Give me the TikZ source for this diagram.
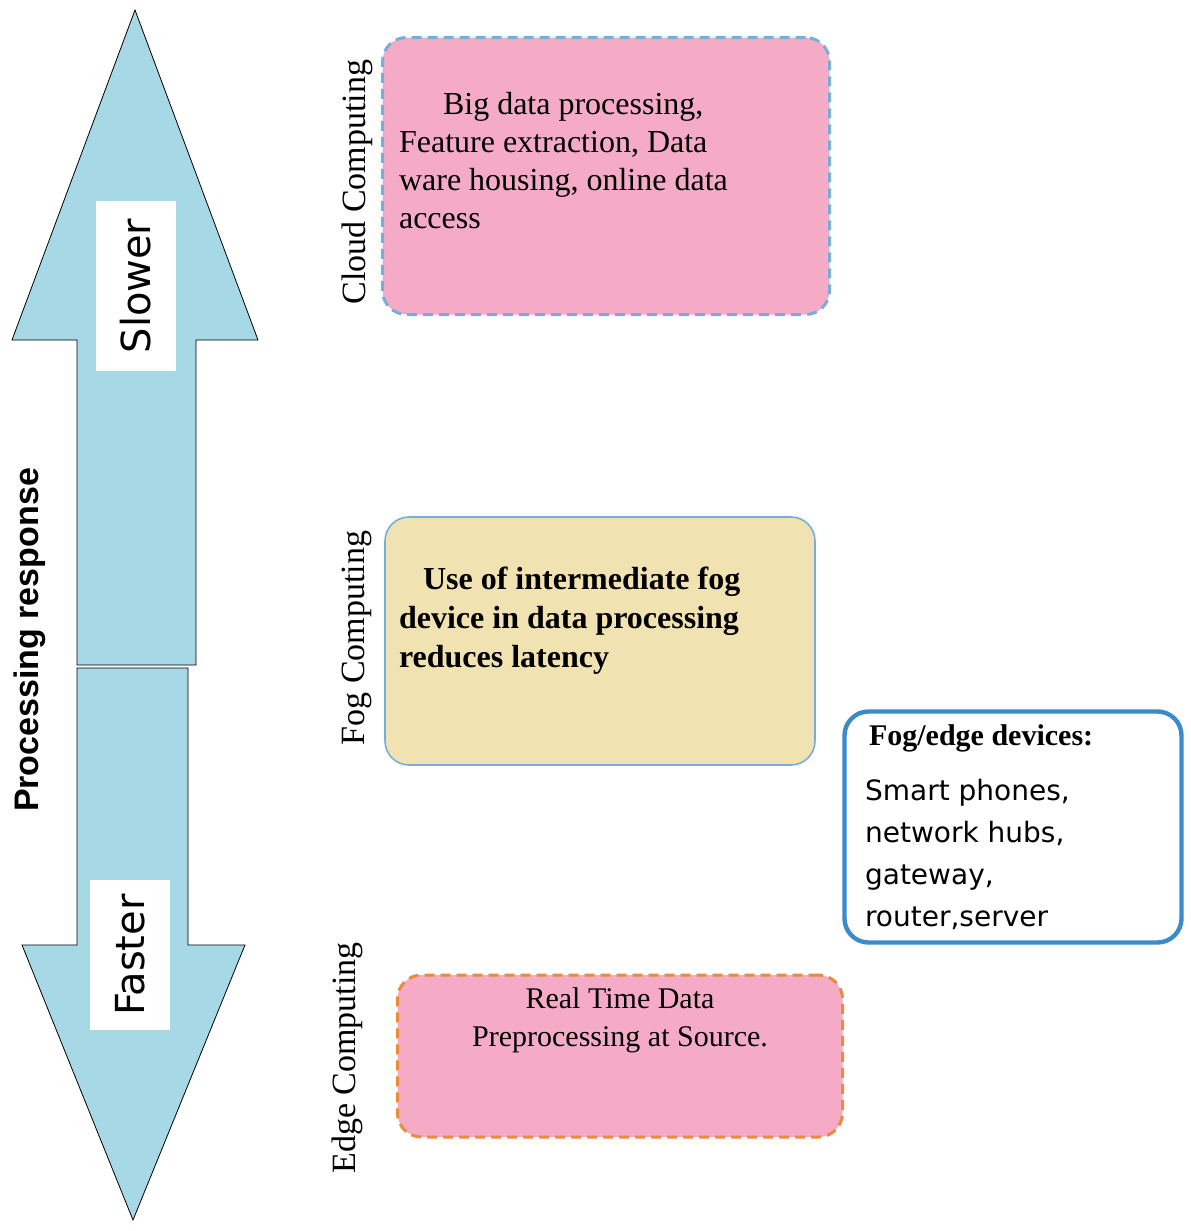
\documentclass[tikz,border=0pt]{standalone}
\usepackage{fontspec}
\setmainfont{Liberation Serif}
\newfontfamily\sansf{DejaVu Sans}
\newfontfamily\sanslib{Liberation Sans}
\usetikzlibrary{positioning}
\definecolor{arrowblue}{HTML}{A6D8E6}
\definecolor{boxpink}{HTML}{F5ABC6}
\definecolor{boxsand}{HTML}{F1E2B2}
\definecolor{lineblue}{HTML}{3B8BCB}
\definecolor{dashorange}{HTML}{E98A3C}
\begin{document}
\begin{tikzpicture}[x=0.5pt,y=-0.5pt,
    box/.style = {rounded corners=12pt, inner sep=0pt},
    dashedge/.style = {dash pattern=on 5pt off 3pt, line width=1.5pt},
    side/.style = {rotate=90, font=\fontsize{17}{20}\selectfont},
    tag/.style = {fill=white, rotate=90, inner sep=3pt, font=\sansf\fontsize{20}{24}\selectfont},
    body/.style = {align=left, font=\fontsize{16}{19}\selectfont}]
    \useasboundingbox (0,0) rectangle (1190,1231);

    % the two arrows
    \draw[fill=arrowblue] (135,10) -- (258,340) -- (196,340) -- (196,665) -- (77,665) -- (77,340) -- (12,340) -- cycle;
    \draw[fill=arrowblue] (77,668) -- (188,668) -- (188,945) -- (245,945) -- (133,1220) -- (22,945) -- (77,945) -- cycle;
    \node[tag, minimum width=170pt/2, minimum height=80pt/2] (slow) at (136,286) {Slower};
    \node[tag, minimum width=150pt/2, minimum height=80pt/2] (fast) at (130,955) {Faster};
    \node[rotate=90, font=\sanslib\bfseries\fontsize{17}{20}\selectfont] (resp) at (30,640) {Processing response};

    % boxes
    \node[box, draw=lineblue!70, dashedge, fill=boxpink, minimum width=223.5pt, minimum height=138.5pt] (cloud) at (606,176) {};
    \node[body, anchor=north west] (ctext) at (392,85) {\hspace*{22pt}Big data processing,\\ Feature extraction, Data\\ ware housing, online data\\ access};
    \node[box, draw=lineblue!70, line width=0.8pt, fill=boxsand, minimum width=215pt, minimum height=124pt] (fog) at (600,641) {};
    \node[body, anchor=north west, font=\bfseries\fontsize{16}{19.5}\selectfont] (ftext) at (392,560) {\hspace*{12pt}Use of intermediate fog\\ device in data processing\\ reduces latency};
    \node[box, draw=dashorange, dashedge, fill=boxpink, minimum width=222.5pt, minimum height=81pt] (edge) at (620,1056) {};
    \node[align=center, font=\fontsize{15}{19}\selectfont, anchor=north] (etext) at (620,981) {Real Time Data\\ Preprocessing at Source.};
    \node[box, draw=lineblue, line width=2.2pt, fill=white, minimum width=168.5pt, minimum height=115.5pt] (dev) at (1013,827) {};
    \node[anchor=north west, font=\bfseries\fontsize{15}{18}\selectfont] (dhead) at (862,718) {Fog/edge devices:};
    \node[anchor=north west, align=left, font=\sansf\fontsize{14}{21}\selectfont] (dtext) at (858,772) {Smart phones,\\ network hubs,\\ gateway,\\ router,server};

    % side labels
    \node[side] (lc) at (357,182) {Cloud Computing};
    \node[side] (lf) at (357,638) {Fog Computing};
    \node[side] (le) at (347,1058) {Edge Computing};
\end{tikzpicture}
\end{document}
